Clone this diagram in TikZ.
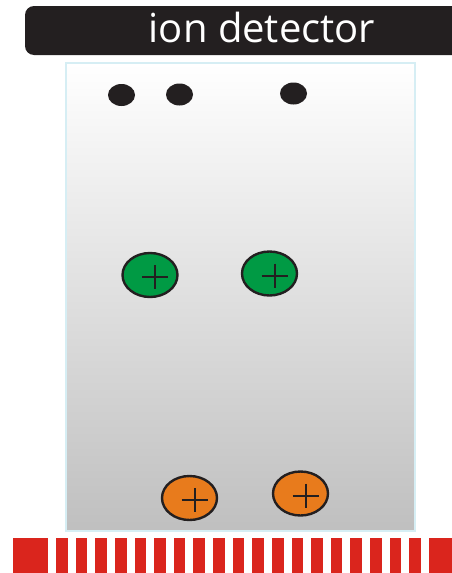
\documentclass[tikz,border=0pt]{standalone}
\usepackage{fontspec}
\setmainfont{Open Sans}
\usetikzlibrary{shapes.geometric}
\definecolor{barblack}{HTML}{231F20}
\definecolor{panelrim}{HTML}{D6EEF4}
\definecolor{ionred}{HTML}{DA251D}
\definecolor{iongreen}{HTML}{009A44}
\definecolor{ionorange}{HTML}{E87B1C}
\tikzset{
  electron/.style={ellipse, fill=barblack, minimum width=27pt, minimum height=22pt, inner sep=0pt},
  cation/.style={ellipse, draw=barblack, line width=2.4pt, minimum width=55pt, minimum height=44pt, inner sep=0pt,
    path picture={\draw[barblack, line width=2pt]
      (path picture bounding box.center) ++(-8pt,-2pt) -- ++(26pt,0pt)
      (path picture bounding box.center) ++(5pt,10pt) -- ++(0pt,-24pt);}},
}
\begin{document}
\begin{tikzpicture}[x=1pt,y=-1pt]
    \useasboundingbox (0,0) rectangle (452,573);
    % Detector bar
    \fill[barblack] (452,6) [rounded corners=9pt] -- (25,6) -- (25,55) [sharp corners] -- (452,55) -- cycle;
    \node[text=white, font=\fontsize{40}{44}\selectfont] (title) at (262,27) {ion detector};
    % Panel
    \shade[top color=white, bottom color=black!25] (66,63) rectangle (415,531);
    \draw[panelrim, line width=2pt] (66,63) rectangle (415,531);
    % Electrons
    \node[electron] (e1) at (121.5,95) {};
    \node[electron] (e2) at (179.5,94.5) {};
    \node[electron] (e3) at (293.5,93.5) {};
    % Ions
    \node[cation, fill=iongreen] (g1) at (150,275) {};
    \node[cation, fill=iongreen] (g2) at (269.5,273.5) {};
    \node[cation, fill=ionorange] (o1) at (189.5,498) {};
    \node[cation, fill=ionorange] (o2) at (300.5,493.5) {};
    % Stripes
    \fill[ionred] (13,538) rectangle (452,573);
    \foreach \i in {0,...,19}
        \fill[white] ({48+19.63*\i},538) rectangle ++(8,36);
\end{tikzpicture}
\end{document}
